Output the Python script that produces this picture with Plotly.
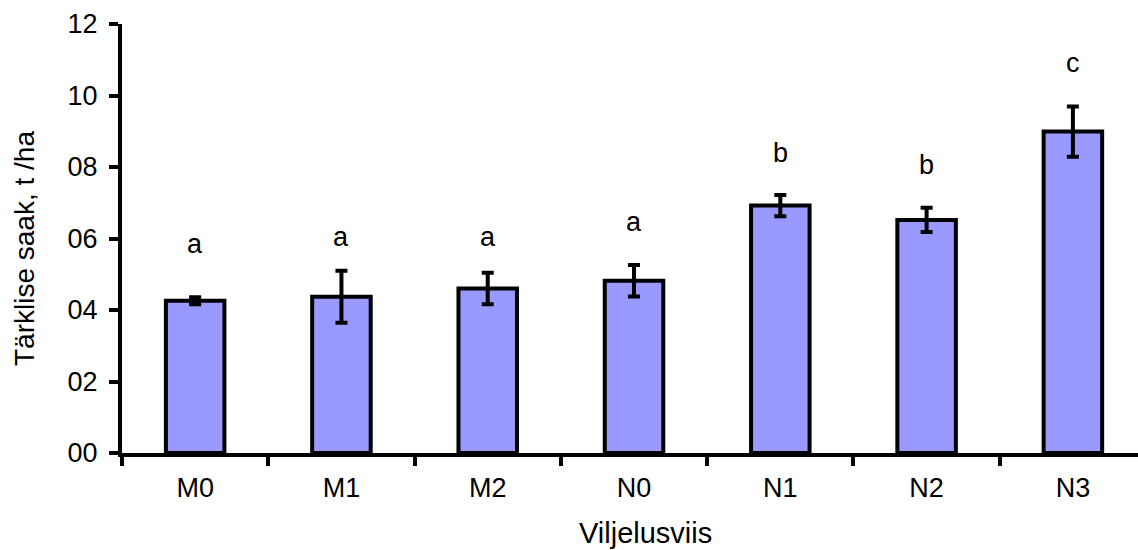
import plotly.graph_objects as go

categories = ["M0", "M1", "M2", "N0", "N1", "N2", "N3"]
yields = [4.26, 4.37, 4.60, 4.82, 6.92, 6.52, 8.99]
errors = [0.10, 0.73, 0.44, 0.44, 0.30, 0.34, 0.70]
letters = ["a", "a", "a", "a", "b", "b", "c"]
letter_y = [5.85, 6.04, 6.04, 6.46, 8.39, 8.06, 10.9]
y_tickvals = [0, 2, 4, 6, 8, 10, 12]
y_ticktext = ["00", "02", "04", "06", "08", "10", "12"]
x_title = "Viljelusviis"
y_title = "Tärklise saak, t /ha"

FONT = "Liberation Sans, Arial, sans-serif"
W, H = 1138, 550
ML, MR, MT, MB = 122, 0, 24, 97
PW, PH = W - ML - MR, H - MT - MB

fig = go.Figure()
fig.add_trace(go.Bar(
    x=categories, y=yields, width=0.4,
    marker=dict(color="#9999FF", line=dict(color="black", width=4)),
    error_y=dict(type="data", array=errors, visible=True, color="black",
                 thickness=4, width=6),
    showlegend=False,
))

for c, t, yv in zip(categories, letters, letter_y):
    fig.add_annotation(x=c, y=yv, text=t, showarrow=False, yanchor="middle",
                       font=dict(family=FONT, size=27, color="black"))

# axis titles placed as annotations (reference plot is cropped on the right)
fig.add_annotation(xref="paper", yref="paper",
                   x=(645 - ML) / PW, y=-(533 - (MT + PH)) / PH,
                   xanchor="center", yanchor="middle", showarrow=False,
                   text=x_title, font=dict(family=FONT, size=29, color="black"))
fig.add_annotation(xref="paper", yref="paper",
                   x=(24 - ML) / PW, y=((MT + PH) - 249) / PH,
                   xanchor="center", yanchor="middle", showarrow=False, textangle=-90,
                   text=y_title, font=dict(family=FONT, size=28, color="black"))

fig.update_layout(
    width=W, height=H,
    margin=dict(l=ML, r=MR, t=MT, b=MB),
    plot_bgcolor="white", paper_bgcolor="white",
    font=dict(family=FONT, size=27, color="black"),
    bargap=0.6,
)
fig.update_xaxes(
    type="category", range=[-0.5, 6.445],
    showline=True, linecolor="black", linewidth=4,
    ticks="outside", tickson="boundaries", ticklen=9, tickwidth=4, tickcolor="black",
    showgrid=False, zeroline=False,
    tickfont=dict(size=27), ticklabelstandoff=8,
)
fig.update_yaxes(
    range=[0, 12],
    tickvals=y_tickvals, ticktext=y_ticktext,
    showline=True, linecolor="black", linewidth=4,
    ticks="outside", ticklen=9, tickwidth=4, tickcolor="black",
    showgrid=False, zeroline=False,
    tickfont=dict(size=27), ticklabelstandoff=6,
)

fig.write_html("out.html")
